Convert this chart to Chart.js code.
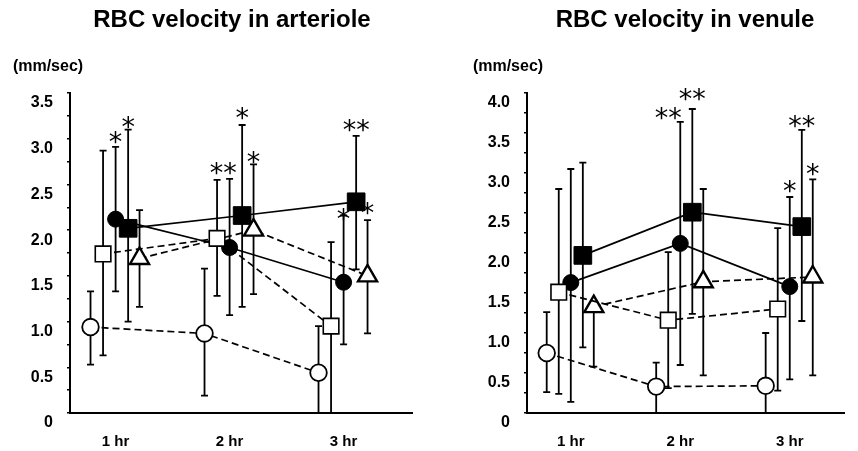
<!DOCTYPE html>
<html>
<head>
<meta charset="utf-8">
<script src="https://cdn.jsdelivr.net/npm/chart.js@4.4.1/dist/chart.umd.min.js"></script>
<style>
  html, body { margin: 0; padding: 0; background: #fff; overflow: hidden; }
  #wrap { position: relative; width: 858px; height: 451px; }
  .panel { position: absolute; top: 0; height: 451px; }
  #artBox { left: 0; width: 430px; }
  #venBox { left: 457px; width: 401px; }
</style>
</head>
<body>
<div id="wrap">
  <div class="panel" id="artBox"><canvas id="artChart"></canvas></div>
  <div class="panel" id="venBox"><canvas id="venChart"></canvas></div>
</div>
<script>
// time points
const hours = [1, 2, 3];
const hourLabels = ["1 hr", "2 hr", "3 hr"];

// rows: open circle, open square, filled circle, filled square, open triangle
const artMean = [
  [0.94, 0.87, 0.44],
  [1.74, 1.91, 0.95],
  [2.12, 1.81, 1.43],
  [2.02, 2.16, 2.31],
  [1.69, 2.0, 1.5],
];
const artUpper = [
  [1.33, 1.58, 0.95],
  [2.87, 2.55, 1.87],
  [2.91, 2.56, 2.16],
  [3.1, 3.15, 3.03],
  [2.22, 2.72, 2.11],
];
const artLower = [
  [0.53, 0.19, 0],
  [0.63, 1.28, 0],
  [1.33, 1.07, 0.75],
  [1.0, 1.16, 1.57],
  [1.16, 1.3, 0.87],
];
const artTicks = ["0", "0.5", "1.0", "1.5", "2.0", "2.5", "3.0", "3.5"];
const artStars = [
  { hour: 1, series: [2], text: "*", at: 3.01 },
  { hour: 1, series: [3], text: "*", at: 3.18 },
  { hour: 2, series: [1, 2], text: "**", at: 2.67 },
  { hour: 2, series: [3], text: "*", at: 3.28 },
  { hour: 2, series: [4], text: "*", at: 2.8 },
  { hour: 3, series: [2], text: "*", at: 2.17 },
  { hour: 3, series: [3], text: "**", at: 3.15 },
  { hour: 3, series: [4], text: "*", at: 2.24 },
];

const venMean = [
  [0.75, 0.33, 0.34],
  [1.51, 1.16, 1.3],
  [1.63, 2.12, 1.58],
  [1.97, 2.51, 2.33],
  [1.33, 1.64, 1.7],
];
const venUpper = [
  [1.26, 0.63, 1.0],
  [2.8, 2.01, 2.31],
  [3.05, 3.64, 2.7],
  [3.13, 3.8, 3.54],
  [1.33, 2.8, 2.92],
];
const venLower = [
  [0.26, 0, 0],
  [0.24, 0.31, 0.28],
  [0.14, 0.6, 0.42],
  [0.82, 1.24, 1.15],
  [0.58, 0.47, 0.47],
];
const venTicks = ["0", "0.5", "1.0", "1.5", "2.0", "2.5", "3.0", "3.5", "4.0"];
const venStars = [
  { hour: 2, series: [1], text: "**", at: 3.75 },
  { hour: 2, series: [3], text: "**", at: 3.98 },
  { hour: 3, series: [2], text: "*", at: 2.83 },
  { hour: 3, series: [3], text: "**", at: 3.64 },
  { hour: 3, series: [4], text: "*", at: 3.04 },
];

// marker look for each row
const seriesStyle = [
  { shape: "circle", fill: "#fff", r: 8.3, bw: 1.8, dash: [7, 4], dx: -0.22, order: 0 },
  { shape: "rect", fill: "#fff", r: 11, bw: 1.6, dash: [7, 4], dx: -0.11, order: 0 },
  { shape: "circle", fill: "#000", r: 8, bw: 1, dash: [], dx: 0, order: 1 },
  { shape: "rect", fill: "#000", r: 12.5, bw: 1, dash: [], dx: 0.11, order: 1 },
  { shape: "triangle", fill: "#fff", r: 11, bw: 2.4, dash: [7, 4], dx: 0.21, order: 0 },
];

const FONT = "'Liberation Sans', Arial, sans-serif";

function makeChart(id, mean, upper, lower, tickLabels, stars, cfg) {
  const ctx = document.getElementById(id).getContext("2d");

  const datasets = mean.map((row, i) => {
    const st = seriesStyle[i];
    return {
      data: row.map((v, j) => ({ x: hours[j] + st.dx, y: v })),
      borderColor: "#000",
      borderWidth: 1.7,
      borderDash: st.dash,
      pointStyle: st.shape,
      pointRadius: st.r,
      pointBackgroundColor: st.fill,
      pointBorderColor: "#000",
      pointBorderWidth: st.bw,
      tension: 0,
      fill: false,
      clip: false,
      order: st.order,
    };
  });

  // error bars under the markers
  const errorBars = {
    id: "errorBars",
    beforeDatasetsDraw(chart) {
      const c = chart.ctx;
      const xs = chart.scales.x;
      const ys = chart.scales.y;
      c.save();
      c.strokeStyle = "#000";
      c.lineWidth = 1.8;
      mean.forEach((row, i) => {
        row.forEach((v, j) => {
          const x = xs.getPixelForValue(hours[j] + seriesStyle[i].dx);
          const yt = ys.getPixelForValue(upper[i][j]);
          const yb = ys.getPixelForValue(lower[i][j]);
          c.beginPath();
          c.moveTo(x, yt);
          c.lineTo(x, yb);
          if (upper[i][j] > v) {
            c.moveTo(x - 3.5, yt);
            c.lineTo(x + 3.5, yt);
          }
          if (lower[i][j] > 0) {
            c.moveTo(x - 3.5, yb);
            c.lineTo(x + 3.5, yb);
          }
          c.stroke();
        });
      });
      c.restore();
    },
  };

  // titles, unit label and significance marks
  const labels = {
    id: "labels",
    afterDraw(chart) {
      const c = chart.ctx;
      const xs = chart.scales.x;
      const ys = chart.scales.y;
      c.save();
      c.fillStyle = "#000";
      c.textAlign = "center";
      c.textBaseline = "middle";
      c.font = "bold 24px " + FONT;
      c.fillText(cfg.title, cfg.titleX, 20);
      c.font = "bold 16px " + FONT;
      c.fillText("(mm/sec)", cfg.unitX, 67);

      c.font = "27px 'DejaVu Sans'";
      c.textBaseline = "alphabetic";
      stars.forEach((s) => {
        const dx =
          s.series.reduce((a, k) => a + seriesStyle[k].dx, 0) / s.series.length;
        const x = xs.getPixelForValue(s.hour + dx);
        const y = ys.getPixelForValue(s.at);
        const m = c.measureText(s.text);
        const off = (m.actualBoundingBoxAscent - m.actualBoundingBoxDescent) / 2;
        c.fillText(s.text, x, y + off);
      });
      c.restore();
    },
  };

  return new Chart(ctx, {
    type: "line",
    data: { datasets: datasets },
    plugins: [errorBars, labels],
    options: {
      responsive: true,
      maintainAspectRatio: false,
      animation: false,
      layout: { padding: { top: 93, right: cfg.padRight, left: 0, bottom: 0 } },
      plugins: {
        legend: { display: false },
        tooltip: { enabled: false },
        title: { display: false },
      },
      scales: {
        x: {
          type: "linear",
          min: 0.6,
          max: cfg.xMax,
          afterBuildTicks: (s) => {
            s.ticks = hours.map((v) => ({ value: v }));
          },
          afterFit: (s) => {
            s.height = 38;
          },
          grid: { display: false },
          border: { display: true, color: "#000", width: 2 },
          ticks: {
            color: "#000",
            font: { family: FONT, size: 15, weight: "bold" },
            padding: 12,
            maxRotation: 0,
            autoSkip: false,
            callback: (v) => hourLabels[hours.indexOf(v)],
          },
        },
        y: {
          min: 0,
          max: cfg.yMax,
          afterFit: (s) => {
            s.width = 70;
          },
          grid: {
            display: true,
            drawOnChartArea: false,
            drawTicks: true,
            tickLength: 3,
            color: "#000",
            lineWidth: 1.5,
          },
          border: { display: true, color: "#000", width: 2 },
          ticks: {
            stepSize: 0.25,
            color: "#000",
            font: { family: FONT, size: 16, weight: "bold" },
            padding: 14,
            labelOffset: 10,
            autoSkip: false,
            callback: (v) => {
              const k = Math.round(v * 4);
              return k % 2 === 0 ? tickLabels[k / 2] : "";
            },
          },
        },
      },
    },
  });
}

makeChart("artChart", artMean, artUpper, artLower, artTicks, artStars, {
  title: "RBC velocity in arteriole",
  titleX: 232,
  unitX: 48,
  yMax: 3.5,
  xMax: 3.6,
  padRight: 18,
});

makeChart("venChart", venMean, venUpper, venLower, venTicks, venStars, {
  title: "RBC velocity in venule",
  titleX: 228,
  unitX: 51,
  yMax: 4.0,
  xMax: 3.5,
  padRight: 0,
});
</script>
</body>
</html>
